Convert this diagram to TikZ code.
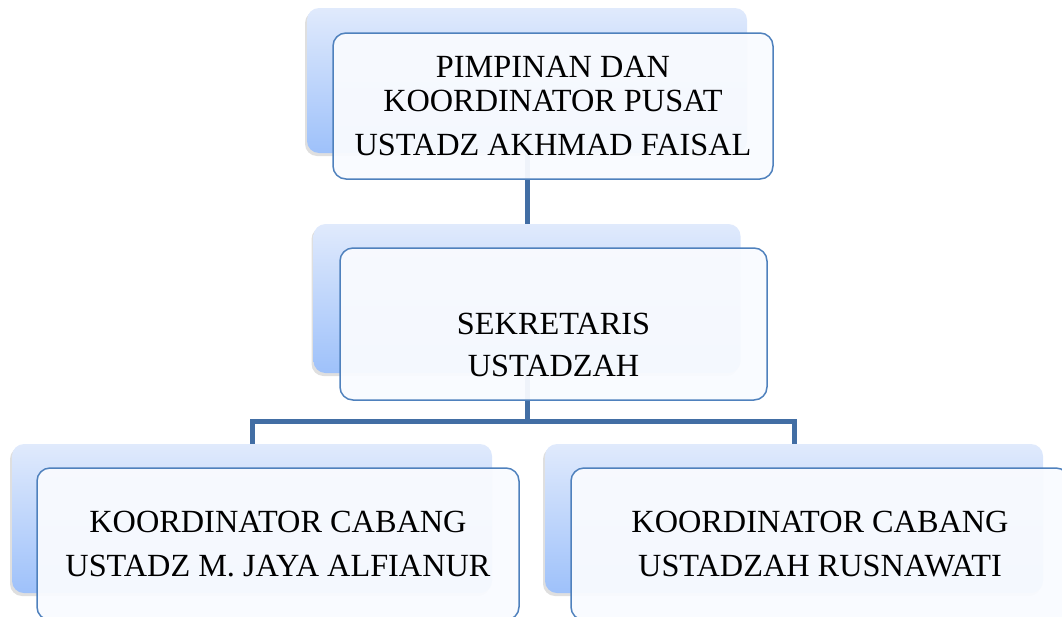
\documentclass[tikz,border=0pt]{standalone}
\usepackage{fontspec}
\setmainfont{Liberation Serif}
\usetikzlibrary{shadows,backgrounds}
\definecolor{conn}{RGB}{66,110,164}
\definecolor{frameblue}{RGB}{79,129,189}
\definecolor{backtop}{RGB}{224,234,252}
\definecolor{backbot}{RGB}{158,193,250}
\definecolor{frontfill}{RGB}{249,251,255}
\begin{document}
\begin{tikzpicture}[x=1pt,y=-1pt,
  backbox/.style={inner sep=0pt, outer sep=0pt, rounded corners=12pt,
    top color=backtop, bottom color=backbot,
    drop shadow={opacity=0.25, shadow xshift=-2pt, shadow yshift=-3pt}},
  frontbox/.style={inner sep=0pt, outer sep=0pt, rounded corners=13pt,
    draw=frameblue, line width=1.5pt, fill=frontfill, fill opacity=0.95},
  boxtext/.style={inner sep=0pt, align=center, text=black,
    font=\fontsize{32.3}{44}\selectfont},
  connector/.style={draw=conn, line width=5pt, line join=miter}]
\useasboundingbox (0,0) rectangle (1062,616);
\clip (0,0) rectangle (1062,616);

% back (gradient) boxes
\node[backbox, minimum width=440pt, minimum height=145pt] (b1) at (527,80.5) {};
\node[backbox, minimum width=427pt, minimum height=149pt] (b2) at (527,298.5) {};
\node[backbox, minimum width=480pt, minimum height=149pt] (b3) at (252,518.5) {};
\node[backbox, minimum width=498pt, minimum height=149pt] (b4) at (794,518.5) {};

% front boxes
\node[frontbox, minimum width=440pt, minimum height=146pt] (f1) at (553,106) {};
\node[frontbox, minimum width=427pt, minimum height=152pt] (f2) at (553.5,324) {};
\node[frontbox, minimum width=482pt, minimum height=152pt] (f3) at (278,544) {};
\node[frontbox, minimum width=498pt, minimum height=152pt] (f4) at (820,544) {};

% texts
\node[boxtext] (t1) at (f1.center) {PIMPINAN DAN\\[-10pt]KOORDINATOR PUSAT\\USTADZ AKHMAD FAISAL};
\node[boxtext, font=\fontsize{32.3}{42}\selectfont] (t2) at (553.5,344.5) {SEKRETARIS\\USTADZAH};
\node[boxtext] (t3) at (278,544.5) {KOORDINATOR CABANG\\USTADZ M. JAYA ALFIANUR};
\node[boxtext] (t4) at (820,544.5) {KOORDINATOR CABANG\\USTADZAH RUSNAWATI};

% connectors
\begin{scope}[on background layer]
  \coordinate (bus) at (527,421);
  \draw[connector] (b1.center) -- (b2.center);
  \draw[connector] (b2.center) -- (bus);
  \draw[connector] (b3.center) |- (bus) -| (b4.center);
\end{scope}
\end{tikzpicture}
\end{document}
